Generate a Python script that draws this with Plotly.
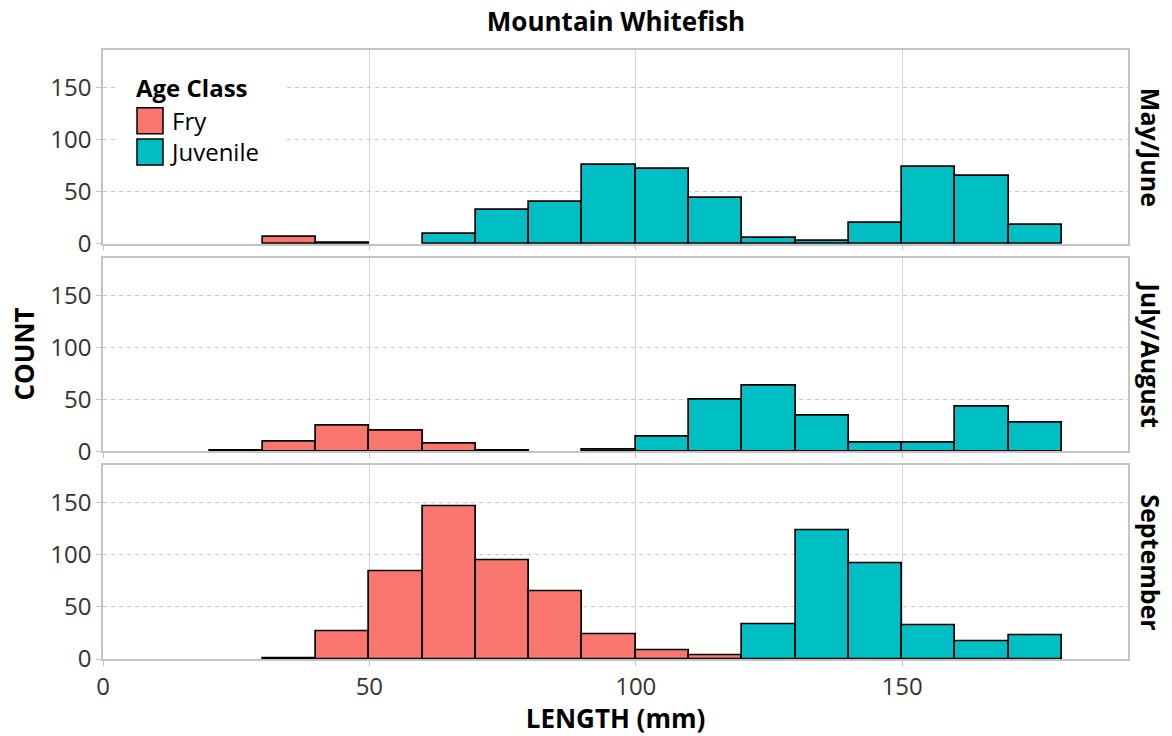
import plotly.graph_objects as go
from plotly.subplots import make_subplots

# Length bins (left edges, mm); every bin is 10 mm wide
bin_starts = [20, 30, 40, 50, 60, 70, 80, 90, 100, 110, 120, 130, 140, 150, 160, 170]
bin_width = 10

periods = ["May/June", "July/August", "September"]

# Counts per bin for each sampling period and age class
fry_counts = {
    "May/June":    [0, 6, 1, 0, 0, 0, 0, 0, 0, 0, 0, 0, 0, 0, 0, 0],
    "July/August": [1, 9, 25, 20, 7, 1, 0, 0, 0, 0, 0, 0, 0, 0, 0, 0],
    "September":   [0, 1, 27, 84, 147, 95, 65, 24, 8, 4, 0, 0, 0, 0, 0, 0],
}
juvenile_counts = {
    "May/June":    [0, 0, 0, 0, 9, 32, 40, 76, 72, 44, 5, 3, 20, 74, 65, 18],
    "July/August": [0, 0, 0, 0, 0, 0, 0, 2, 14, 50, 63, 34, 8, 8, 43, 28],
    "September":   [0, 0, 0, 0, 0, 0, 0, 0, 0, 0, 33, 124, 92, 32, 17, 23],
}

age_classes = [("Fry", fry_counts, "#F8766D"), ("Juvenile", juvenile_counts, "#00BFC4")]

x_ticks = [0, 50, 100, 150]
y_ticks = [0, 50, 100, 150]

FONT = "Open Sans"
W, H = 1172, 736
ML, MR, MT, MB = 103, 44, 50, 77

fig = make_subplots(rows=3, cols=1, shared_xaxes=True, vertical_spacing=14 / (H - MT - MB))

for row, period in enumerate(periods, start=1):
    for name, counts, color in age_classes:
        xs = [b + bin_width / 2 for b, c in zip(bin_starts, counts[period]) if c > 0]
        ys = [c for c in counts[period] if c > 0]
        fig.add_trace(
            go.Bar(
                x=xs, y=ys, width=bin_width, name=name,
                marker=dict(color=color, line=dict(color="black", width=1.7)),
                showlegend=False,
            ),
            row=row, col=1,
        )

grid_x = "#d6d6d6"
grid_y = "#c9c9c9"
border = "#c4c4c4"

fig.update_xaxes(
    range=[0, 192.4], tickvals=x_ticks, showgrid=True, gridcolor=grid_x, gridwidth=1.3,
    zeroline=False, showline=True, linecolor=border, linewidth=1.5, mirror=True,
    ticks="outside", ticklen=5, tickcolor=border, tickwidth=1.3,
    tickfont=dict(family=FONT, size=24, color="#333333"),
)
fig.update_yaxes(
    range=[0, 186], tickvals=y_ticks, showgrid=True, gridcolor=grid_y, gridwidth=1.1,
    griddash="4px,4px", zeroline=False, showline=True, linecolor=border, linewidth=1.5,
    mirror=True, ticks="outside", ticklen=5, tickcolor=border, tickwidth=1.3,
    tickfont=dict(family=FONT, size=24, color="#333333"),
)
fig.update_xaxes(
    title=dict(text="<b>LENGTH (mm)</b>", font=dict(family=FONT, size=26, color="black"), standoff=2),
    row=3, col=1,
)

annotations = []
# facet strip labels on the right
for row, period in enumerate(periods, start=1):
    yref = "y domain" if row == 1 else f"y{row} domain"
    annotations.append(dict(
        text=f"<b>{period}</b>", xref="paper", yref=yref,
        x=(1151 - ML) / (W - ML - MR), y=0.5, xanchor="center", yanchor="middle",
        textangle=90, showarrow=False, font=dict(family=FONT, size=25, color="black"),
    ))

# shared y axis title
annotations.append(dict(
    text="<b>COUNT</b>", xref="paper", yref="paper", x=(23 - ML) / (W - ML - MR), y=0.5,
    xanchor="center", yanchor="middle", textangle=-90, showarrow=False,
    font=dict(family=FONT, size=26, color="black"),
))

# legend drawn inside the top panel
pw, ph = W - ML - MR, 193.0


def px(xp):
    return (xp - ML) / pw


def py(yp):
    return (243 - yp) / ph


item_size = 26
item_step = 31.2   # matches the line spacing of the two-line label block
first_top = 107.5

shapes = [dict(type="rect", xref="x domain", yref="y domain", x0=px(118), x1=px(287),
               y0=py(175), y1=py(68), fillcolor="white", line=dict(width=0), layer="above")]
annotations.append(dict(
    text="<b>Age Class</b>", xref="x domain", yref="y domain", x=px(134), y=py(87),
    xanchor="left", yanchor="middle", showarrow=False,
    font=dict(family=FONT, size=24, color="black"),
))
for i, (name, _, color) in enumerate(age_classes):
    top = first_top + i * item_step
    shapes.append(dict(type="rect", xref="x domain", yref="y domain", x0=px(137), x1=px(163),
                       y0=py(top + item_size), y1=py(top), fillcolor=color,
                       line=dict(color="black", width=1.5), layer="above"))
block_mid = first_top + (len(age_classes) * item_step - (item_step - item_size)) / 2
annotations.append(dict(
    text="<br>".join(name for name, _, _ in age_classes), xref="x domain", yref="y domain",
    x=px(168), y=py(block_mid), xanchor="left", yanchor="middle", align="left",
    showarrow=False, font=dict(family=FONT, size=24, color="black"),
))

fig.update_layout(
    width=W, height=H, margin=dict(l=ML, r=MR, t=MT, b=MB),
    paper_bgcolor="white", plot_bgcolor="white", barmode="overlay", bargap=0,
    title=dict(text="<b>Mountain Whitefish</b>", x=(616) / W, xanchor="center",
               y=1 - 22 / H, yanchor="middle", font=dict(family=FONT, size=26, color="black")),
    annotations=annotations, shapes=shapes, showlegend=False,
)

fig.write_html("out.html")
